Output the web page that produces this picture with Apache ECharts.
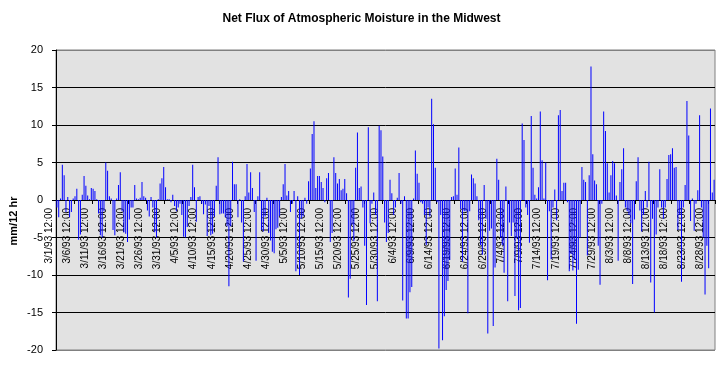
<!DOCTYPE html>
<html>
<head>
<meta charset="utf-8">
<script src="https://cdn.jsdelivr.net/npm/echarts@6/dist/echarts.min.js"></script>
<style>html,body{margin:0;padding:0;background:#fff}#c{width:723px;height:365px}</style>
</head>
<body>
<div id="c"></div>
<script>
// Net flux values (mm/12 hr), in time order
var flux1 = [-1.0,-2.3,0.2,4.7,3.3,-1.6,0.4,-2.3,-1.6,0.2,0.5,1.5,-5.3,-4.6,0.7,3.2,1.9,0.6,0.1,1.6,1.5,1.2,0.1,-1.8,-4.7,-5.0,-1.5,5.0,3.9,0.5,0.2,-4.0,-4.7];
var flux2 = [0.2,2.0,3.7,-1.5,-4.3,-4.5,-5.6,-2.6,-1.0,-1.0,2.0,0.2,0.1,0.3,2.4,0.5,0.3,-1.4,-2.2,0.4,-1.0,-4.3,-5.0,0.1,2.2,2.9,4.4,1.7,0.1,0.1,-0.3,0.7];
var flux3 = [-0.8,-1.5,-1.0,-0.5,-2.0,-4.9,-5.0,-3.6,-0.8,0.4,4.7,1.7,-2.9,0.4,0.5,-0.5,-1.9,-0.6,-4.8,-0.8,-4.7,-4.5,-2.2,1.9,5.7,-1.9,-1.8,-1.8,-2.3,-3.5,-11.5,-3.5];
var flux4 = [5.1,2.1,2.1,-2.3,0.1,-3.0,-8.2,0.5,4.8,1.0,3.7,1.6,-1.6,-8.1,0.5,3.7,-4.0,-4.2,-2.2,0.3,-4.4,-5.4,-6.9,-7.1,-3.9,-3.7,-2.1,0.4,2.1,4.8,0.6,1.2,-1.6];
var flux5 = [-0.5,1.2,-9.5,0.5,-10.0,-2.5,-2.2,0.3,-0.5,2.5,4.2,8.8,10.5,1.6,3.2,3.2,2.4,1.6,-0.3,2.9,3.6,-5.6,-4.4,5.7,3.6,2.2,2.8,1.3,1.5,2.8,0.9,-13.0];
var flux6 = [-10.5,-3.3,-5.5,4.3,9.0,1.6,1.8,-1.0,-6.1,-14.0,9.7,-3.1,-0.5,1.0,-2.0,-13.5,9.9,9.3,5.8,-3.0,-5.6,-4.4,2.7,0.9,-2.0,-1.0,0.3,3.6,-0.5,-13.4,0.5,-15.8];
var flux7 = [-15.8,-12.3,-11.6,0.2,6.6,3.5,2.3,-0.3,-0.5,-2.0,-6.0,-1.0,-2.2,13.5,10.1,4.3,-0.3,-19.8,-2.0,-18.7,-15.5,-12.0,-10.8,-8.0,0.4,0.5,4.2,0.7,7.0,-1.2,-8.2,-1.5];
var flux8 = [-1.5,-15.1,-1.5,3.4,2.9,2.2,0.5,-2.7,-6.0,-7.3,2.0,-2.5,-17.8,-4.1,-3.8,-16.8,-9.0,5.5,2.7,-5.0,-6.0,-9.7,1.8,-13.5,-3.0,-4.8,-3.0,-12.8,-5.1,-14.7,-14.4,10.2];
var flux9 = [8.0,-1.0,-2.0,-5.7,11.2,4.3,0.7,0.2,1.7,11.8,5.3,0.2,5.0,-10.7,-1.5,-7.9,-1.0,1.4,-2.7,11.3,12.0,1.2,2.3,2.3,-0.3,-9.5,-7.2,-9.4,-8.0,-16.5,-9.3,-5.0];
var flux10 = [4.4,2.7,2.4,-7.4,3.3,17.8,6.1,2.6,2.1,-6.1,-11.3,-0.5,11.8,9.2,4.9,1.0,3.3,5.2,4.9,0.6,-8.1,2.4,4.1,6.9,-1.0,-1.5,-2.0,-3.1,-11.2,-2.6,2.5];
var flux11 = [5.7,-1.4,-4.2,-2.0,1.2,-1.0,5.1,-11.0,-2.5,-15.0,-4.6,-1.0,4.1,-1.0,-2.5,-1.0,2.8,6.0,6.1,6.9,4.3,4.4,-4.0,-2.0,-10.9,-1.0,2.0,13.2,8.6,-2.8,0.2,-4.1,-0.5,1.3,11.3,-1.0,-5.0,-12.6,-6.1,-9.1,12.2,1.0,2.7];

var values = [].concat(flux1, flux2, flux3, flux4, flux5, flux6, flux7, flux8, flux9, flux10, flux11);

// Categories: 12-hourly timestamps starting 3/1/93 12:00
var startTime = Date.UTC(1993, 2, 1, 12, 0);
var categories = [];
for (var i = 0; i < values.length; i++) {
  var d = new Date(startTime + i * 12 * 3600 * 1000);
  categories.push((d.getUTCMonth() + 1) + '/' + d.getUTCDate() + '/' + String(d.getUTCFullYear()).slice(2) + ' ' + d.getUTCHours() + ':00');
}

var yTicks = [-20, -15, -10, -5, 0, 5, 10, 15, 20];
var titleText = 'Net Flux of Atmospheric Moisture in the Midwest';
var yName = 'mm/12 hr';

var FONT = 'Liberation Sans, Arial, sans-serif';
var chart = echarts.init(document.getElementById('c'), null, {renderer: 'canvas'});
chart.setOption({
  animation: false,
  backgroundColor: '#ffffff',
  title: {
    text: titleText,
    left: 'center',
    top: 8,
    textStyle: {fontFamily: FONT, fontSize: 12, fontWeight: 'bold', color: '#000'}
  },
  graphic: [{
    type: 'text',
    x: 14,
    y: 221,
    rotation: Math.PI / 2,
    style: {text: yName, font: 'bold 11px "Liberation Sans", Arial, sans-serif', fill: '#000', align: 'center', verticalAlign: 'middle'}
  }],
  grid: [{
    left: 56, right: 8, top: 50, bottom: 15,
    outerBoundsMode: 'none',
    show: true, backgroundColor: '#e2e2e2', borderColor: '#808080', borderWidth: 1
  }, {
    left: 48, right: 16, top: 50, bottom: 15,
    outerBoundsMode: 'none',
    show: false
  }],
  xAxis: [{
    type: 'category',
    gridIndex: 0,
    data: categories,
    boundaryGap: true,
    offset: -150,
    axisLine: {onZero: false, lineStyle: {color: '#000', width: 1}},
    axisTick: {show: true, interval: 9, length: 4, lineStyle: {color: '#000'}},
    axisLabel: {show: false},
    splitLine: {show: false}
  }, {
    type: 'category',
    gridIndex: 1,
    data: categories,
    boundaryGap: true,
    offset: -150,
    axisLine: {show: false, onZero: false},
    axisTick: {show: false},
    axisLabel: {
      interval: 9,
      rotate: 90,
      margin: 8,
      fontFamily: FONT,
      fontSize: 10,
      color: '#000'
    },
    splitLine: {show: false}
  }],
  yAxis: [{
    type: 'value',
    gridIndex: 0,
    min: yTicks[0],
    max: yTicks[yTicks.length - 1],
    interval: 5,
    axisLine: {show: true, lineStyle: {color: '#000'}},
    axisTick: {show: true, length: 4, lineStyle: {color: '#000'}},
    axisLabel: {margin: 13, fontFamily: FONT, fontSize: 11, color: '#000'},
    splitLine: {show: true, lineStyle: {color: ['#808080', '#000', '#000', '#000', '#000', '#000', '#000', '#000', '#808080'], width: 1}}
  }, {
    type: 'value',
    gridIndex: 1,
    min: yTicks[0],
    max: yTicks[yTicks.length - 1],
    interval: 5,
    show: false
  }],
  series: [{
    type: 'bar',
    xAxisIndex: 0,
    yAxisIndex: 0,
    data: values,
    barWidth: 1,
    itemStyle: {color: '#0000ff'},
    emphasis: {disabled: true}
  }]
});
</script>
</body>
</html>
